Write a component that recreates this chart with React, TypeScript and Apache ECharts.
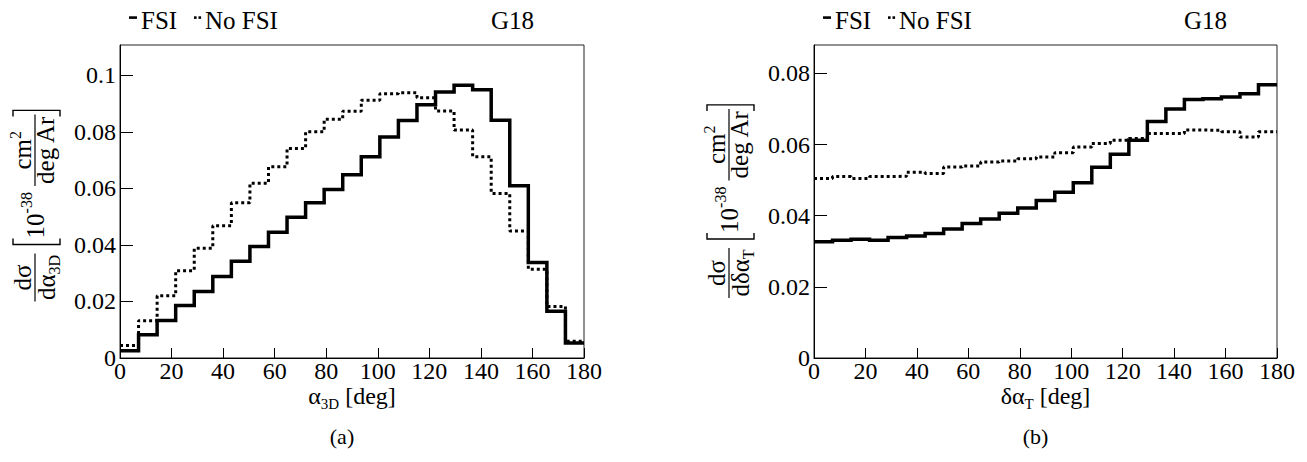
import React, { useEffect, useRef } from "react";
import * as echarts from "echarts";

const FONT = '"Liberation Serif", "Times New Roman", serif';

// x range (deg) and number of histogram bins (25 bins of 7.2 deg)
const X_MIN = 0;
const X_MAX = 180;
const xTicks = [0, 20, 40, 60, 80, 100, 120, 140, 160, 180];

// (a) alpha_3D
const alpha3dFSI = [
  0.0026, 0.0082, 0.0133, 0.0186, 0.0235, 0.0288, 0.0342, 0.0394, 0.0445, 0.0498,
  0.0549, 0.0596, 0.0648, 0.0712, 0.0782, 0.084, 0.0896, 0.0941, 0.0965, 0.0949,
  0.0841, 0.0609, 0.0338, 0.0165, 0.0053,
];
const alpha3dNoFSI = [
  0.0044, 0.0132, 0.022, 0.0309, 0.0388, 0.0468, 0.0549, 0.0618, 0.0676, 0.0741,
  0.08, 0.0844, 0.0873, 0.0912, 0.0935, 0.0938, 0.092, 0.0874, 0.0806, 0.0712,
  0.0582, 0.0449, 0.0314, 0.0182, 0.0059,
];
const yTicksA = [0, 0.02, 0.04, 0.06, 0.08, 0.1];
const yMaxA = 0.1107;

// (b) delta alpha_T
const dAlphaTFSI = [
  0.0327, 0.0331, 0.0334, 0.0331, 0.0339, 0.0343, 0.035, 0.0363, 0.0378, 0.0391,
  0.0407, 0.0422, 0.0443, 0.0466, 0.0493, 0.0536, 0.0573, 0.0612, 0.0665, 0.07,
  0.0727, 0.0729, 0.0734, 0.0743, 0.0768,
];
const dAlphaTNoFSI = [
  0.0505, 0.051, 0.0505, 0.051, 0.0511, 0.0522, 0.0519, 0.0537, 0.054, 0.0551,
  0.0554, 0.056, 0.0565, 0.0577, 0.0593, 0.0603, 0.0612, 0.0617, 0.0631, 0.0631,
  0.0641, 0.064, 0.0636, 0.0621, 0.0636,
];
const yTicksB = [0, 0.02, 0.04, 0.06, 0.08];
const yMaxB = 0.088;

const legendLabels = ["FSI", "No FSI"];
const generatorLabel = "G18";
const captions = ["(a)", "(b)"];

// histogram bins -> step line points (left edge of every bin + right end)
function toSteps(values: number[]): number[][] {
  const w = (X_MAX - X_MIN) / values.length;
  const pts = values.map((v, i) => [X_MIN + i * w, v]);
  pts.push([X_MAX, values[values.length - 1]]);
  return pts;
}

let ctx2d: CanvasRenderingContext2D | null = null;
function measure(t: string, size: number): number {
  if (!ctx2d) ctx2d = document.createElement("canvas").getContext("2d");
  if (!ctx2d) return t.length * size * 0.5;
  ctx2d.font = `${size}px "Liberation Serif"`;
  return ctx2d.measureText(t).width;
}

// text placed by its baseline
function T(x: number, baseline: number, s: string, size: number, align = "left") {
  return {
    type: "text",
    x,
    y: baseline - 0.3375 * size,
    silent: true,
    style: { text: s, fontSize: size, fontFamily: FONT, fill: "#000", align, verticalAlign: "middle" },
  };
}
function Ln(x1: number, y1: number, x2: number, y2: number, w = 1.2) {
  return { type: "line", silent: true, shape: { x1, y1, x2, y2 }, style: { stroke: "#000", lineWidth: w } };
}

function yTitle(axisX: number, centerY: number, denMain: string, denSub: string) {
  const F = 25;
  const S = 16;
  const els: any[] = [];
  let u = 0;
  const wNum = measure("d\u03c3", F);
  const wDm = measure(denMain, F);
  const wDs = measure(denSub, S);
  const w1 = Math.max(wNum, wDm + wDs) + 3;
  els.push(Ln(u, 0, u + w1, 0));
  els.push(T(u + w1 / 2, -4, "d\u03c3", F, "center"));
  const d0 = u + (w1 - wDm - wDs) / 2;
  els.push(T(d0, 20, denMain, F));
  els.push(T(d0 + wDm, 25, denSub, S));
  u += w1 + 9;
  const vTop = -22;
  const vBot = 25;
  els.push({
    type: "polyline",
    silent: true,
    shape: { points: [[u + 6, vTop], [u, vTop], [u, vBot], [u + 6, vBot]] },
    style: { stroke: "#000", lineWidth: 1.4, fill: null },
  });
  u += 6;
  els.push(T(u, 9, "10", F));
  u += measure("10", F);
  els.push(T(u, -3, "-38", S));
  u += measure("-38", S) + 6;
  const wCm = measure("cm", F);
  const wSup = measure("2", S);
  const wDeg = measure("deg Ar", F);
  const w2 = Math.max(wCm + wSup, wDeg) + 3;
  els.push(Ln(u, 0, u + w2, 0));
  const n0 = u + (w2 - wCm - wSup) / 2;
  els.push(T(n0, -4, "cm", F));
  els.push(T(n0 + wCm, -14, "2", S));
  els.push(T(u + w2 / 2, 19, "deg Ar", F, "center"));
  u += w2 + 4;
  els.push({
    type: "polyline",
    silent: true,
    shape: { points: [[u - 6, vTop], [u, vTop], [u, vBot], [u - 6, vBot]] },
    style: { stroke: "#000", lineWidth: 1.4, fill: null },
  });
  const total = u;
  return { type: "group", x: axisX, y: centerY + total / 2, rotation: Math.PI / 2, children: els };
}

function xTitle(cx: number, baseline: number, main: string, sub: string) {
  const F = 24;
  const S = 15;
  const rest = " [deg]";
  const wm = measure(main, F);
  const ws = measure(sub, S);
  const wr = measure(rest, F);
  const x0 = cx - (wm + ws + wr) / 2;
  return {
    type: "group",
    children: [T(x0, baseline, main, F), T(x0 + wm, baseline + 5, sub, S), T(x0 + wm + ws, baseline, rest, F)],
  };
}

function legendBlock(left: number, right: number) {
  return {
    type: "group",
    children: [
      { type: "rect", silent: true, shape: { x: left + 9, y: 16.3, width: 8, height: 2.6 }, style: { fill: "#000" } },
      T(left + 21, 29, legendLabels[0], 25),
      { type: "rect", silent: true, shape: { x: left + 74, y: 16.3, width: 2.6, height: 2.6 }, style: { fill: "#000" } },
      { type: "rect", silent: true, shape: { x: left + 78.5, y: 16.3, width: 2.6, height: 2.6 }, style: { fill: "#000" } },
      T(left + 85, 29, legendLabels[1], 25),
      T(right - 50, 29, generatorLabel, 25, "right"),
    ],
  };
}

const GRIDS = [
  { left: 120, top: 45, width: 464, height: 313 },
  { left: 814, top: 45, width: 463, height: 313 },
];

function xAxisCfg(gridIndex: number) {
  return {
    type: "value",
    gridIndex,
    min: X_MIN,
    max: X_MAX,
    interval: 20,
    axisLine: { show: true, onZero: false, lineStyle: { color: "#000", width: 1 } },
    axisTick: { show: true, inside: true, length: 10, lineStyle: { color: "#000", width: 1 } },
    axisLabel: {
      show: true,
      margin: 1,
      color: "#000",
      fontSize: 24,
      fontFamily: FONT,
      showMinLabel: true,
      showMaxLabel: true,
      customValues: xTicks,
    },
    splitLine: { show: false },
  };
}
function yAxisCfg(gridIndex: number, max: number, ticks: number[]) {
  return {
    type: "value",
    gridIndex,
    min: 0,
    max,
    axisLine: { show: true, onZero: false, lineStyle: { color: "#000", width: 1 } },
    axisTick: { show: true, inside: true, length: 13, customValues: ticks, lineStyle: { color: "#000", width: 1 } },
    axisLabel: {
      show: true,
      margin: 4,
      color: "#000",
      fontSize: 24,
      fontFamily: FONT,
      customValues: ticks,
      formatter: (v: number) => String(parseFloat(v.toFixed(4))),
    },
    splitLine: { show: false },
  };
}

function stepSeries(name: string, idx: number, values: number[], dotted: boolean) {
  return {
    name,
    type: "line",
    xAxisIndex: idx,
    yAxisIndex: idx,
    step: "end",
    symbol: "none",
    clip: true,
    z: dotted ? 2 : 3,
    data: toSteps(values),
    lineStyle: dotted
      ? { color: "#000", width: 3, type: [3, 3], cap: "butt" }
      : { color: "#000", width: 3.5, type: "solid", join: "miter" },
  };
}

export default function App() {
  const ref = useRef<HTMLDivElement>(null);
  useEffect(() => {
    document.body.style.margin = "0";
    if (!ref.current) return;
    const chart = echarts.init(ref.current, undefined, { renderer: "svg" });
    const cxA = GRIDS[0].left + GRIDS[0].width / 2;
    const cxB = GRIDS[1].left + GRIDS[1].width / 2;
    chart.setOption({
      animation: false,
      backgroundColor: "#fff",
      grid: GRIDS.map((g) => ({ ...g, show: true, borderColor: "#222", borderWidth: 1, backgroundColor: "transparent" })),
      xAxis: [xAxisCfg(0), xAxisCfg(1)],
      yAxis: [yAxisCfg(0, yMaxA, yTicksA), yAxisCfg(1, yMaxB, yTicksB)],
      series: [
        stepSeries(legendLabels[1], 0, alpha3dNoFSI, true),
        stepSeries(legendLabels[0], 0, alpha3dFSI, false),
        stepSeries(legendLabels[1], 1, dAlphaTNoFSI, true),
        stepSeries(legendLabels[0], 1, dAlphaTFSI, false),
      ],
      graphic: [
        legendBlock(GRIDS[0].left, GRIDS[0].left + GRIDS[0].width),
        legendBlock(GRIDS[1].left, GRIDS[1].left + GRIDS[1].width),
        xTitle(cxA, 404, "\u03b1", "3D"),
        xTitle(cxB, 404, "\u03b4\u03b1", "T"),
        yTitle(GRIDS[0].left - 85, 206, "d\u03b1", "3D"),
        yTitle(GRIDS[1].left - 85, 201.5, "d\u03b4\u03b1", "T"),
        T(cxA - 10, 444, captions[0], 22, "center"),
        T(cxB - 10, 444, captions[1], 22, "center"),
      ],
    });
    return () => chart.dispose();
  }, []);
  return <div ref={ref} style={{ width: 1307, height: 462 }} />;
}
